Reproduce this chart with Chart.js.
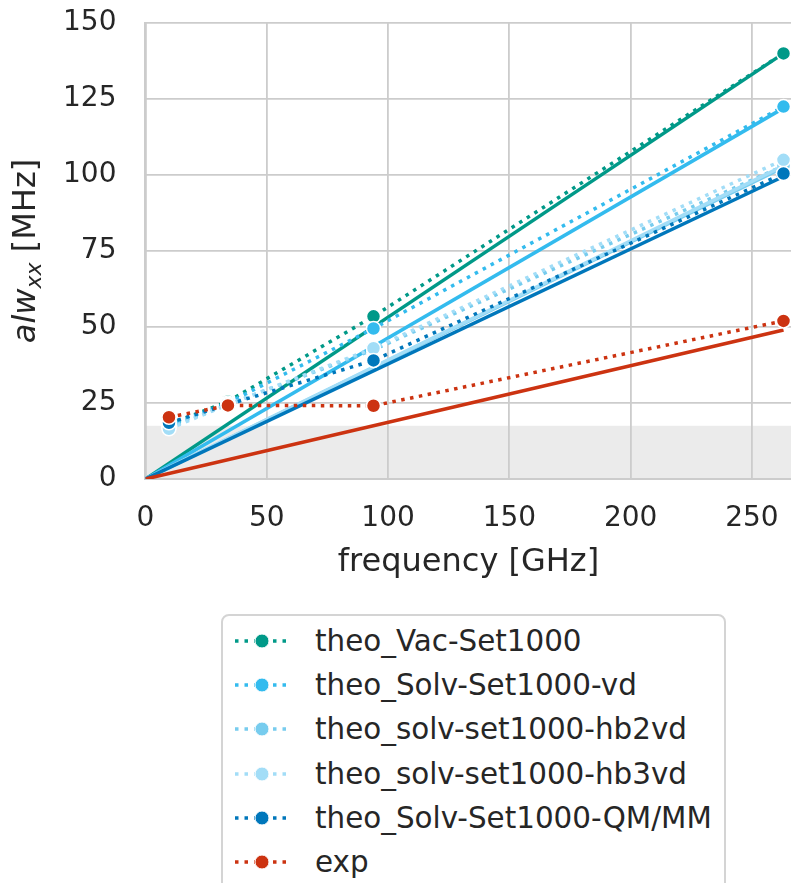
<!DOCTYPE html>
<html>
<head>
<meta charset="utf-8">
<script src="https://cdn.jsdelivr.net/npm/chart.js@4"></script>
<style>
    body { margin: 0; background: #fff; overflow: hidden; width: 791px; height: 883px; position: relative; }
    #wrap { position: absolute; left: 0; top: 0; width: 800px; height: 600px; }
    #legend {
        position: absolute; left: 221px; top: 614px; width: 505px; height: 300px;
        border: 2px solid #d4d4d4; border-radius: 8px; box-sizing: border-box;
        padding: 3px 0 0 9px; background: #fff;
        font-family: 'DejaVu Sans'; font-size: 29.4px; color: #262626;
    }
    .row { display: flex; align-items: center; height: 44.2px; }
    .row svg { flex: none; margin-right: 25px; }
</style>
</head>
<body>
<div id="wrap"><canvas id="chart" width="800" height="600"></canvas></div>
<div id="legend"></div>
<script>
document.addEventListener('DOMContentLoaded', function () {

    // measured points (GHz / MHz)
    const freq = [9.7, 34, 94, 263];
    const vacSet1000 = [18, 25.5, 53.5, 140];
    const solvSet1000vd = [17.5, 25, 49.5, 122.5];
    const solvHb2vd = [17, 24.5, 42.5, 103];
    const solvHb3vd = [16.5, 24.5, 43, 105];
    const solvQmmm = [18.5, 24.5, 39, 100.5];
    const expValues = [20.3, 24.2, 24.1, 52];

    // solid linear fits, from the origin to the last frequency
    const fitFreq = [0, 263];
    const fitVac = [0, 140];
    const fitVd = [0, 122];
    const fitHb2 = [0, 102.5];
    const fitHb3 = [0, 103];
    const fitQmmm = [0, 99.5];
    const fitExp = [0, 49];

    const seriesNames = ['theo_Vac-Set1000', 'theo_Solv-Set1000-vd', 'theo_solv-set1000-hb2vd',
        'theo_solv-set1000-hb3vd', 'theo_Solv-Set1000-QM/MM', 'exp'];
    const seriesColors = ['#009988', '#33BBEE', '#77CCEE', '#A2DDF7', '#0077BB', '#CC3311'];
    const seriesValues = [vacSet1000, solvSet1000vd, solvHb2vd, solvHb3vd, solvQmmm, expValues];
    const seriesFits = [fitVac, fitVd, fitHb2, fitHb3, fitQmmm, fitExp];

    const xTicks = [0, 50, 100, 150, 200, 250];
    const yTicks = [0, 25, 50, 75, 100, 125, 150];
    const bandTop = 17.5;

    Chart.defaults.font.family = "'DejaVu Sans'";
    Chart.defaults.color = '#262626';

    const datasets = [];
    seriesNames.forEach((name, i) => {
        const top = (seriesNames.length - i) * 2;
        datasets.push({
            label: name + ' fit',
            data: fitFreq.map((x, j) => ({ x: x, y: seriesFits[i][j] })),
            borderColor: seriesColors[i],
            borderWidth: 3.5,
            pointRadius: 0,
            order: top + 1,
        });
        datasets.push({
            label: name,
            data: freq.map((x, j) => ({ x: x, y: seriesValues[i][j] })),
            borderColor: seriesColors[i],
            backgroundColor: seriesColors[i],
            borderWidth: 3.5,
            borderDash: [3.5, 5.5],
            borderCapStyle: 'butt',
            pointRadius: 7,
            pointBorderColor: '#fff',
            pointBorderWidth: 1.5,
            order: top,
        });
    });

    const bandPlugin = {
        id: 'band',
        beforeDraw(chart) {
            const { ctx, chartArea, scales } = chart;
            const y0 = scales.y.getPixelForValue(0);
            const y1 = scales.y.getPixelForValue(bandTop);
            ctx.save();
            ctx.fillStyle = '#ebebeb';
            ctx.fillRect(chartArea.left, y1, chartArea.right - chartArea.left, y0 - y1);
            ctx.restore();
        },
        afterDraw(chart) {
            // y title: italic alw with subscript xx, then [MHz]
            const ctx = chart.ctx;
            const cy = (chart.chartArea.top + chart.chartArea.bottom) / 2;
            const big = "32px 'DejaVu Sans'";
            const bigIt = "italic 32px 'DejaVu Sans'";
            const smallIt = "italic 22px 'DejaVu Sans'";
            ctx.save();
            ctx.translate(35, cy);
            ctx.rotate(-Math.PI / 2);
            ctx.fillStyle = '#262626';
            ctx.textBaseline = 'alphabetic';
            ctx.font = bigIt; const w1 = ctx.measureText('alw').width;
            ctx.font = smallIt; const w2 = ctx.measureText('xx').width;
            ctx.font = big; const w3 = ctx.measureText(' [MHz]').width;
            let x = -(w1 + w2 + w3) / 2;
            ctx.font = bigIt; ctx.fillText('alw', x, 0); x += w1;
            ctx.font = smallIt; ctx.fillText('xx', x, 6); x += w2;
            ctx.font = big; ctx.fillText(' [MHz]', x, 0);
            ctx.restore();
        },
    };

    new Chart(document.getElementById('chart').getContext('2d'), {
        type: 'line',
        data: { datasets: datasets },
        plugins: [bandPlugin],
        options: {
            responsive: false,
            animation: false,
            layout: { padding: { left: 34, top: 23, right: 0, bottom: 14 } },
            plugins: { legend: { display: false }, tooltip: { enabled: false } },
            scales: {
                x: {
                    type: 'linear',
                    min: 0,
                    max: 266.3,
                    afterBuildTicks: axis => { axis.ticks = xTicks.map(v => ({ value: v })); },
                    afterFit: axis => { axis.paddingLeft = 0; axis.paddingRight = 0; },
                    grid: { color: '#cccccc', lineWidth: 1.8, drawTicks: false },
                    border: { color: '#cccccc', width: 2 },
                    ticks: { font: { size: 28 }, padding: 23, maxRotation: 0 },
                    title: { display: true, text: 'frequency [GHz]',
                        font: { size: 32 }, padding: { top: -15, bottom: 4 } },
                },
                y: {
                    min: 0,
                    max: 150,
                    afterBuildTicks: axis => { axis.ticks = yTicks.map(v => ({ value: v })); },
                    afterFit: axis => { axis.paddingTop = 0; axis.paddingBottom = 0; },
                    grid: { color: '#cccccc', lineWidth: 1.8, drawTicks: false },
                    border: { color: '#cccccc', width: 2 },
                    ticks: { font: { size: 28 }, padding: 29 },
                },
            },
        },
    });

    // legend below the chart
    const legend = document.getElementById('legend');
    seriesNames.forEach((name, i) => {
        const c = seriesColors[i];
        const row = document.createElement('div');
        row.className = 'row';
        row.innerHTML = '<svg width="58" height="20">' +
            '<line x1="3" y1="10" x2="58" y2="10" stroke="' + c + '" stroke-width="3.5" stroke-dasharray="3.5 6"/>' +
            '<circle cx="30" cy="10" r="7" fill="' + c + '" stroke="#fff" stroke-width="1"/></svg>' +
            '<span>' + name + '</span>';
        legend.appendChild(row);
    });
});
</script>
</body>
</html>
